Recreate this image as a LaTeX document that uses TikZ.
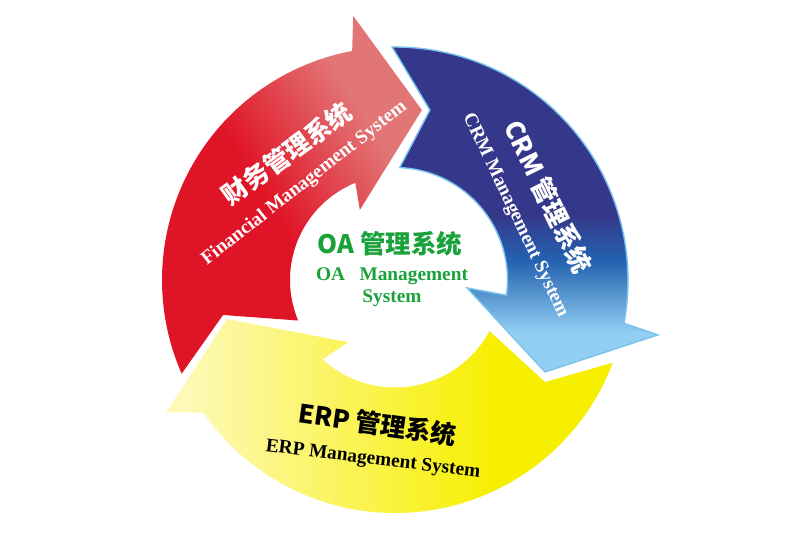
\documentclass[tikz,border=0pt]{standalone}
\usepackage{fontspec}
\setmainfont{Liberation Serif}
\newfontfamily\cjk{Noto Sans CJK SC}
\definecolor{findark}{RGB}{224,20,39}
\definecolor{finlight}{RGB}{226,117,117}
\definecolor{crmdark}{RGB}{53,56,138}
\definecolor{crmmid}{RGB}{36,99,177}
\definecolor{crmlight}{RGB}{147,207,243}
\definecolor{crmedge}{RGB}{121,196,238}
\definecolor{erppale}{RGB}{254,249,185}
\definecolor{erpbright}{RGB}{247,239,0}
\definecolor{oagreen}{RGB}{26,162,58}
\pgfdeclareverticalshading{finshade}{100bp}{color(0bp)=(findark); color(47bp)=(findark); color(68bp)=(finlight); color(100bp)=(finlight)}
\pgfdeclareverticalshading{crmshade}{100bp}{color(0bp)=(crmlight); color(31bp)=(crmlight); color(42bp)=(crmmid); color(49bp)=(crmdark); color(100bp)=(crmdark)}
\pgfdeclarehorizontalshading{erpshade}{100bp}{color(0bp)=(erppale); color(27bp)=(erppale); color(62bp)=(erpbright); color(100bp)=(erpbright)}
\tikzset{
  systitle/.style={font={\cjk\bfseries\fontsize{14.5}{17}\selectfont}, inner sep=0pt},
  syssub/.style={font={\bfseries\fontsize{11}{12.5}\selectfont}, inner sep=0pt},
}

\begin{document}
\begin{tikzpicture}
		%%%%% START %%%%%
		
		\fill[white] (0,0) rectangle (16,-10.68);
		
		\begin{scope}[shift={(7.9,-5.6)}]
		% finance arrow
		\shade[shading=finshade, shading angle=-58]
			(203.7:4.66) arc[start angle=203.7, end angle=100.6, radius=4.66]
			-- (99:5.35) -- (81:3.44) -- (116.6:1.57) -- (112.2:2.1)
			arc[start angle=112.2, end angle=202.7, radius=2.1] -- (191.5:3.51) -- cycle;
		
		% crm arrow
		\shadedraw[shading=crmshade, draw=crmedge, line width=0.8pt]
			(90.7:4.66) arc[start angle=90.7, end angle=-10.7, radius=4.66]
			-- (-11.8:5.37) -- (-31.5:3.52) -- (-6.3:1.45) -- (-7.8:2.25)
			arc[start angle=-7.8, end angle=87.6, radius=2.25] -- (78.4:3.47) -- cycle;
		
		% erp arrow
		\shade[shading=erpshade]
			(-20.8:4.66) arc[start angle=-20.8, end angle=-145.3, radius=4.66]
			-- (210:5.29) -- (193.1:3.45) -- (232.8:1.56) -- (227.6:2.15)
			arc[start angle=227.6, end angle=331.6, radius=2.15] -- (-34.2:3.63) -- cycle;
		\end{scope}
		
		\node[systitle, white, rotate=36] (fintitle) at (5.74,-3.07) {财务管理系统};
		\node[syssub, white, rotate=38] (finsub) at (6.09,-3.67) {Financial Management System};
		
		\node[systitle, white, rotate=-64] (crmtitle) at (10.96,-3.93) {CRM 管理系统};
		\node[syssub, white, rotate=-64.5] (crmsub) at (10.30,-4.31) {CRM Management System};
		
		\node[systitle, black, rotate=-8] (erptitle) at (7.55,-8.48) {ERP 管理系统};
		\node[syssub, black, rotate=-7] (erpsub) at (7.46,-9.20) {ERP Management System};
		
		\node[systitle, oagreen] (oatitle) at (7.80,-4.88) {OA 管理系统};
		\node[syssub, oagreen, align=center] (oasub) at (7.84,-5.75) {OA~~~Management\\System};
		
		%%%%% END %%%%%
	\end{tikzpicture}
\end{document}
